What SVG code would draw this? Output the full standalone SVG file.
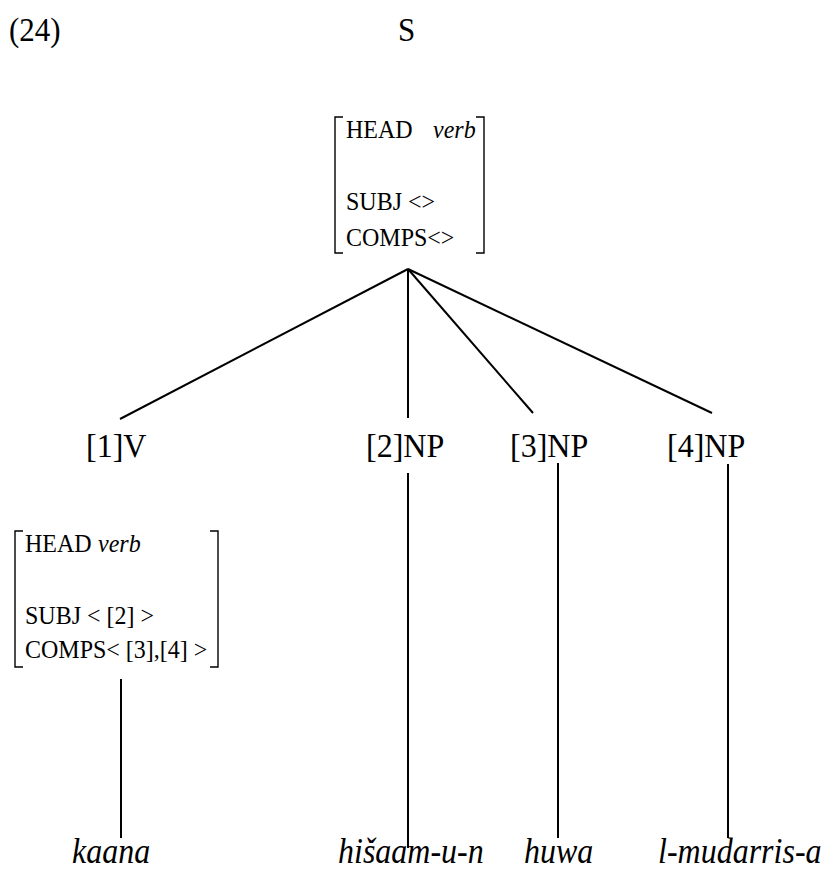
<svg xmlns="http://www.w3.org/2000/svg" width="829" height="870" viewBox="0 0 829 870">
  <style>
    text { font-family: "Liberation Serif", "Times New Roman", serif; fill: #000; }
    .num { font-size: 31px; }
    .lbl { font-size: 32px; }
    .avm { font-size: 24px; }
    .it { font-style: italic; }
    .word { font-size: 32px; font-style: italic; }
    .br { fill: none; stroke: #000; stroke-width: 1.4; }
    .edge { fill: none; stroke: #000; stroke-width: 2; }
  </style>

  <!-- example number -->
  <text class="num" transform="translate(9,41) scale(1,1.1)">(24)</text>

  <!-- root -->
  <g id="node-S">
    <text class="num" transform="translate(398,41) scale(1,1.1)">S</text>
  </g>

  <!-- feature structure of the root -->
  <g id="avm-S">
    <path class="br" d="M343,117 H335 V253 H343"/>
    <path class="br" d="M476,117 H484 V253 H476"/>
    <text class="avm" transform="translate(346,138) scale(1,1.05)">HEAD</text>
    <text class="avm it" transform="translate(433,138) scale(1,1.05)">verb</text>
    <text class="avm" transform="translate(346,210) scale(1,1.05)" xml:space="preserve">SUBJ &lt;&gt;</text>
    <text class="avm" transform="translate(346,246) scale(1,1.05)">COMPS&lt;&gt;</text>
  </g>

  <!-- daughters -->
  <g id="node-V">
    <text class="lbl" transform="translate(86,457) scale(1,1.08)">[1]V</text>
  </g>
  <g id="node-NP2">
    <text class="lbl" transform="translate(366,457) scale(1,1.08)">[2]NP</text>
  </g>
  <g id="node-NP3">
    <text class="lbl" transform="translate(510,457) scale(1,1.08)">[3]NP</text>
  </g>
  <g id="node-NP4">
    <text class="lbl" transform="translate(667,457) scale(1,1.08)">[4]NP</text>
  </g>

  <!-- feature structure of the verb -->
  <g id="avm-V">
    <path class="br" d="M23,531 H15 V667 H23"/>
    <path class="br" d="M210,531 H218 V667 H210"/>
    <text class="avm" transform="translate(25,552) scale(1,1.05)">HEAD</text>
    <text class="avm it" transform="translate(98,552) scale(1,1.05)">verb</text>
    <text class="avm" transform="translate(25,624) scale(1,1.05)" xml:space="preserve">SUBJ &lt; [2] &gt;</text>
    <text class="avm" transform="translate(25,658) scale(1,1.05)" xml:space="preserve">COMPS&lt; [3],[4] &gt;</text>
  </g>

  <!-- terminal words -->
  <g id="word-kaana">
    <text class="word" transform="translate(72,863) scale(1,1.12)">kaana</text>
  </g>
  <g id="word-hisaamun">
    <text class="word" transform="translate(338,863) scale(1,1.12)">hišaam-u-n</text>
  </g>
  <g id="word-huwa">
    <text class="word" transform="translate(524,863) scale(1,1.12)">huwa</text>
  </g>
  <g id="word-mudarris">
    <text class="word" transform="translate(658,863) scale(1,1.12)">l-mudarris-a</text>
  </g>

  <!-- tree branches -->
  <g id="connectors">
    <line class="edge" x1="408" y1="269" x2="120" y2="419"/>
    <line class="edge" x1="408" y1="269" x2="408" y2="418"/>
    <line class="edge" x1="408" y1="269" x2="533" y2="413"/>
    <line class="edge" x1="408" y1="269" x2="712" y2="413"/>
    <line class="edge" x1="121" y1="679" x2="121" y2="838"/>
    <line class="edge" x1="408" y1="473" x2="408" y2="848"/>
    <line class="edge" x1="558" y1="463" x2="558" y2="838"/>
    <line class="edge" x1="728" y1="464" x2="728" y2="838"/>
  </g>
</svg>
